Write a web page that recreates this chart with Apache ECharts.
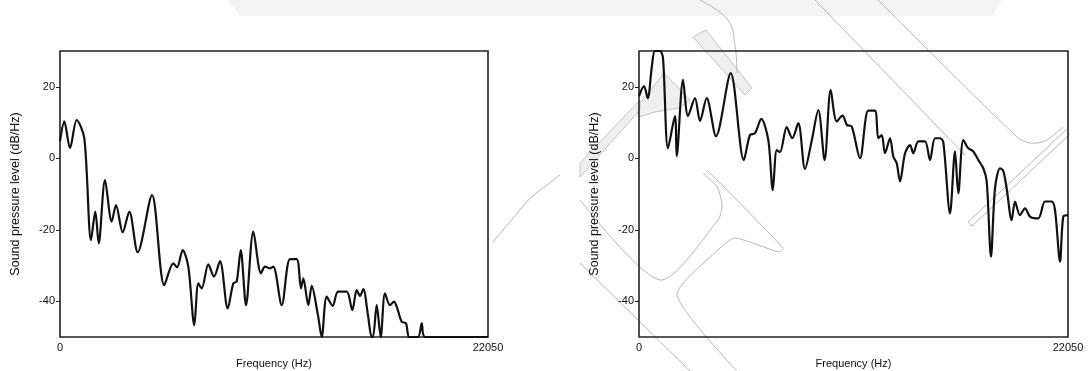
<!DOCTYPE html>
<html>
<head>
<meta charset="utf-8">
<script src="https://cdn.jsdelivr.net/npm/echarts@6/dist/echarts.min.js"></script>
<style>
  html, body { margin: 0; padding: 0; background: #ffffff; }
  #chart { width: 1089px; height: 371px; }
</style>
</head>
<body>
<div id="chart"></div>
<script>
// Long-term average spectra, frequency (Hz) against sound pressure level (dB/Hz)
const freqMax = 22050;
const dbMin = -50;
const dbMax = 30;
const dbTicks = [-40, -20, 0, 20];

// Left spectrum: [frequency Hz, level dB/Hz]
const spectrumA = [
  [0, 4.8], [222, 10.3], [515, 2.8], [860, 10.7], [1252, 5.6], [1597, -22.9],
  [1819, -14.9], [1994, -23.8], [2318, -6.1], [2664, -17.7], [2885, -13.1],
  [3230, -20.7], [3570, -14.9], [4003, -26.3], [4740, -10.3], [5373, -35.5],
  [5837, -29.4], [6028, -30.5], [6321, -25.7], [6610, -30.3], [6919, -46.7],
  [7125, -35.0], [7300, -36.4], [7640, -29.7], [7934, -33.1], [8243, -28.8],
  [8640, -42.0], [8928, -35.0], [9103, -34.5], [9310, -25.7], [9583, -41.1],
  [9959, -20.5], [10355, -32.2], [10561, -30.3], [10819, -30.8], [10989, -30.3],
  [11423, -41.1], [11849, -28.2], [12195, -28.2], [12416, -36.4], [12535, -33.6],
  [12792, -41.1], [12968, -35.7], [13292, -44.0], [13483, -50], [13740, -38.7],
  [14049, -41.3], [14322, -37.3], [14770, -37.3], [15059, -42.5], [15286, -36.9],
  [15456, -38.5], [15626, -36.6], [15868, -44.0], [16059, -50], [16125, -50],
  [16316, -41.1], [16522, -50], [16744, -37.8], [17001, -41.1], [17207, -40.1],
  [17377, -42.0], [17604, -45.7], [17826, -46.2], [17996, -50], [18444, -50],
  [18635, -46.2], [18805, -50], [22050, -50]
];

// Right spectrum: [frequency Hz, level dB/Hz]
const spectrumB = [
  [0, 17.4], [257, 20.2], [447, 16.8], [668, 26.0], [822, 30], [1079, 30],
  [1234, 28.0], [1491, 2.8], [1850, 11.8], [1938, 0.6], [2262, 21.9],
  [2519, 11.8], [2878, 16.8], [3135, 10.4], [3480, 16.8], [3958, 6.2],
  [4713, 23.8], [5387, -0.5], [5705, 6.5], [5962, 7.0], [6286, 11.0],
  [6646, 5.1], [6877, -8.9], [7078, 2.3], [7247, 1.7], [7591, 8.7],
  [7874, 5.6], [8188, 9.8], [8532, -3.0], [8877, 4.9], [9216, 13.5],
  [9540, -0.5], [9853, 19.1], [10162, 10.3], [10459, 11.9], [10691, 9.3],
  [10933, 8.9], [11359, 0.0], [11786, 13.3], [12130, 13.3], [12300, 5.6],
  [12475, 6.5], [12644, 1.4], [12901, 5.6], [13071, 0.5], [13246, -1.4],
  [13416, -6.5], [13673, 1.4], [13930, 3.7], [14100, 1.4], [14357, 4.7],
  [14700, 4.7], [14957, -0.5], [15214, 5.6], [15471, 5.6], [15641, 4.5],
  [15985, -15.4], [16242, 1.9], [16412, -9.8], [16669, 5.1], [16926, 2.8],
  [17183, 1.9], [17440, -0.5], [17697, -2.8], [17872, -6.5], [18092, -27.5],
  [18298, -8.4], [18555, -2.8], [18725, -3.6], [18896, -8.4], [19153, -17.3],
  [19326, -12.1], [19583, -15.9], [19840, -14.0], [20097, -16.3], [20524, -16.8],
  [20868, -12.1], [21213, -12.1], [21383, -14.5], [21640, -28.9], [21809, -16.3],
  [22050, -15.9]
];

const xTitle = 'Frequency (Hz)';
const yTitle = 'Sound pressure level (dB/Hz)';

const textColor = '#111';
const fontFamily = '"Liberation Sans", Arial, Helvetica, sans-serif';

const chart = echarts.init(document.getElementById('chart'), null, { renderer: 'canvas' });

function makeX(gridIndex) {
  return {
    type: 'value', gridIndex: gridIndex,
    min: 0, max: freqMax, interval: freqMax,
    name: xTitle, nameLocation: 'middle', nameGap: 21,
    nameTextStyle: { color: textColor, fontSize: 11, fontFamily: fontFamily },
    axisLine: { show: false },
    axisTick: { show: false },
    splitLine: { show: false },
    axisLabel: {
      color: textColor, fontSize: 11, fontFamily: fontFamily, margin: 5,
      formatter: function (v) { return String(v); }
    }
  };
}

function makeY(gridIndex) {
  return {
    type: 'value', gridIndex: gridIndex,
    min: dbMin, max: dbMax,
    name: yTitle, nameLocation: 'middle', nameGap: 38, nameRotate: 90,
    nameTextStyle: { color: textColor, fontSize: 12.5, fontFamily: fontFamily },
    axisLine: { show: false },
    axisTick: { show: true, length: 4, lineStyle: { color: '#222', width: 1 }, customValues: dbTicks },
    splitLine: { show: false },
    axisLabel: { color: textColor, fontSize: 11, fontFamily: fontFamily, margin: 5, customValues: dbTicks }
  };
}

function makeSeries(idx, data) {
  return {
    type: 'line', xAxisIndex: idx, yAxisIndex: idx,
    data: data, showSymbol: false, smooth: 0.3,
    lineStyle: { color: '#111', width: 2.2 },
    clip: true, animation: false, z: 3
  };
}

// Faint background ornament lines behind the plots
const ornStroke = { stroke: '#b8b8b8', lineWidth: 1, fill: null };
function orn(points, smooth) {
  return { type: 'polyline', silent: true, z: -10, shape: { points: points, smooth: smooth || 0 }, style: ornStroke };
}
function ornFill(points) {
  return { type: 'polygon', silent: true, z: -11, shape: { points: points }, style: { fill: '#efefef', stroke: '#c4c4c4', lineWidth: 1 } };
}

const ornaments = [
  { type: 'polygon', silent: true, z: -12, shape: { points: [[228, 0], [1002, 0], [992, 16], [240, 16]] }, style: { fill: '#f3f3f3' } },
  ornFill([[693, 37], [706, 30], [752, 88], [745, 95]]),
  ornFill([[636, 108], [664, 73], [690, 100], [679, 108], [655, 112], [639, 117]]),
  ornFill([[580, 163], [640, 100], [640, 110], [580, 177]]),
  orn([[700, 0], [728, 20], [735, 45], [737, 73]], 0.4),
  orn([[815, 0], [965, 155]]),
  orn([[878, 0], [1017, 137], [1030, 143], [1045, 141], [1063, 127]], 0.3),
  orn([[1068, 128], [968, 222], [972, 226], [1070, 134]]),
  orn([[703, 173], [717, 187], [722, 205], [718, 220], [660, 280], [580, 200]], 0.25),
  orn([[707, 170], [783, 248], [779, 252], [735, 238], [720, 248], [677, 295], [737, 371]], 0.2),
  orn([[580, 263], [690, 371]]),
  orn([[493, 242], [530, 198], [560, 175]])
];

const gridBase = { top: 51, height: 286, show: true, borderColor: '#222', borderWidth: 1.6, backgroundColor: 'transparent', containLabel: false, outerBoundsMode: 'none' };

chart.setOption({
  animation: false,
  backgroundColor: '#ffffff',
  grid: [
    Object.assign({ left: 60, width: 428 }, gridBase),
    Object.assign({ left: 639, width: 429 }, gridBase)
  ],
  xAxis: [makeX(0), makeX(1)],
  yAxis: [makeY(0), makeY(1)],
  series: [makeSeries(0, spectrumA), makeSeries(1, spectrumB)],
  graphic: { elements: ornaments }
});
</script>
</body>
</html>
